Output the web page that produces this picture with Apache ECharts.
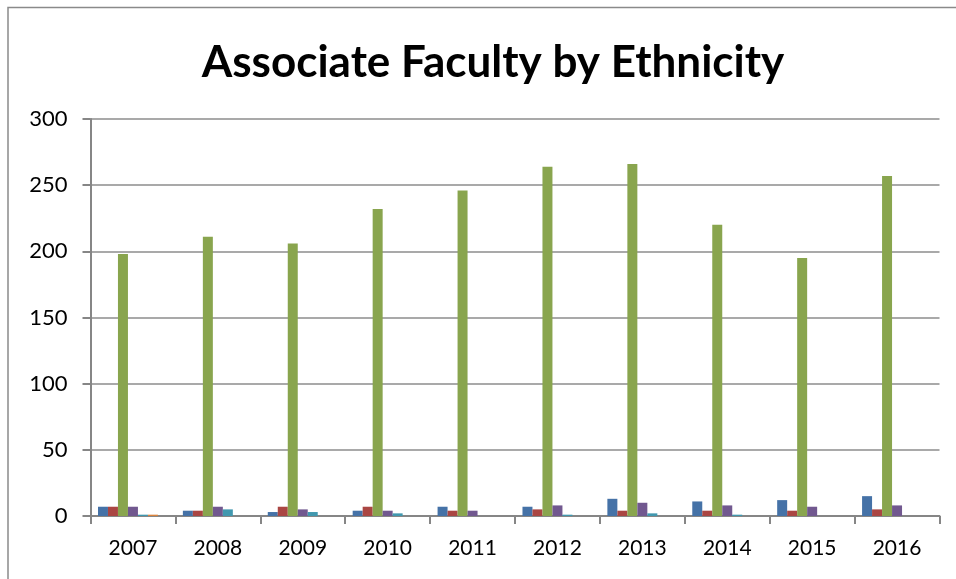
<!DOCTYPE html>
<html>
<head>
<meta charset="utf-8">
<script src="https://cdn.jsdelivr.net/npm/echarts@6/dist/echarts.min.js"></script>
<style>
html,body{margin:0;padding:0;background:#fff;}
#c{width:956px;height:579px;}
</style>
</head>
<body>
<div id="c"></div>
<script>
var categories = ['2007','2008','2009','2010','2011','2012','2013','2014','2015','2016'];
var series1 = [7, 4, 3, 4, 7, 7, 13, 11, 12, 15];
var series2 = [7, 4, 7, 7, 4, 5, 4, 4, 4, 5];
var series3 = [198, 211, 206, 232, 246, 264, 266, 220, 195, 257];
var series4 = [7, 7, 5, 4, 4, 8, 10, 8, 7, 8];
var series5 = [1, 5, 3, 2, 0, 1, 2, 1, 0, 0];
var series6 = [1, 0, 0, 0, 0, 0, 0, 0, 0, 0];
var series7 = [0, 0, 0, 0, 0, 0, 0, 0, 0, 0];
var seriesNames = ['Series 1','Series 2','Series 3','Series 4','Series 5','Series 6','Series 7'];
var yTicks = [0, 50, 100, 150, 200, 250, 300];

var colors = ['#4572A7','#AA4643','#89A54E','#71588F','#4198AF','#DB843D','#93A9CF'];
var allData = [series1, series2, series3, series4, series5, series6, series7];

var chart = echarts.init(document.getElementById('c'));
var font = 'Lato, "Open Sans", sans-serif';
chart.setOption({
  animation: false,
  title: {
    text: 'Associate Faculty by Ethnicity',
    left: 488,
    textAlign: 'center',
    top: 36,
    textStyle: {fontFamily: font, fontWeight: 'bold', fontSize: 44, color: '#000'}
  },
  graphic: [{
    type: 'rect',
    shape: {x: 8, y: 7.5, width: 1200, height: 1200},
    style: {fill: 'none', stroke: '#8a8a8a', lineWidth: 1.5},
    silent: true
  }],
  grid: {left: 90.5, right: 16.5, top: 119, bottom: 63},
  xAxis: {
    type: 'category',
    data: categories,
    axisLine: {lineStyle: {color: '#868686', width: 2}},
    axisTick: {show: true, length: 8, lineStyle: {color: '#868686', width: 2}},
    axisLabel: {fontFamily: font, fontSize: 21, color: '#000', margin: 22}
  },
  yAxis: {
    type: 'value',
    min: yTicks[0],
    max: yTicks[yTicks.length - 1],
    interval: yTicks[1] - yTicks[0],
    axisLine: {show: true, lineStyle: {color: '#868686', width: 2}},
    axisTick: {show: true, length: 8, lineStyle: {color: '#868686', width: 2}},
    splitLine: {lineStyle: {color: '#8c8c8c', width: 1.5}},
    axisLabel: {fontFamily: font, fontSize: 22, color: '#000', margin: 23}
  },
  series: allData.map(function (d, i) {
    return {
      name: seriesNames[i],
      type: 'bar',
      data: d,
      barGap: '0%',
      barCategoryGap: '17.6%',
      itemStyle: {color: colors[i]}
    };
  })
});
</script>
</body>
</html>
